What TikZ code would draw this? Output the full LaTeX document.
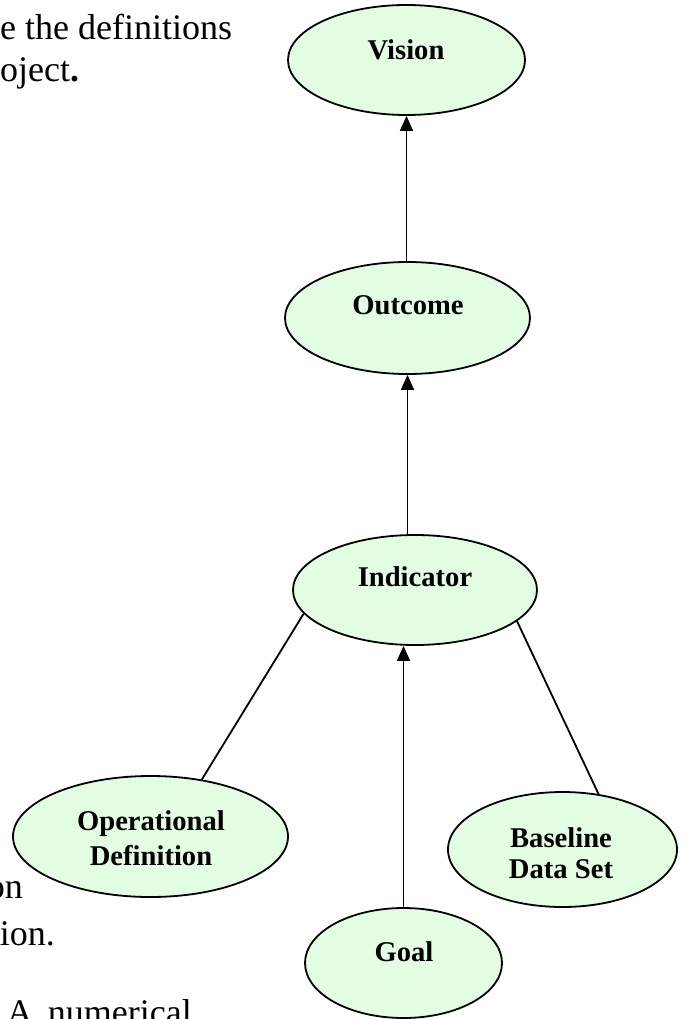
\documentclass[tikz,border=0pt]{standalone}
\usepackage{fontspec}
\setmainfont{Liberation Serif}
\usetikzlibrary{shapes.geometric,arrows.meta}
\definecolor{bubblefill}{RGB}{227,253,227}
\begin{document}
\begin{tikzpicture}[x=1pt,y=-1pt,
  bubble/.style={draw=black,line width=1.8pt,fill=bubblefill,ellipse,inner sep=0pt},
  lbl/.style={font=\fontsize{28.6}{35}\selectfont\bfseries,align=center,inner sep=0pt},
  bodytext/.style={font=\fontsize{36}{42}\selectfont,inner sep=0pt},
  link/.style={line width=1.8pt},
  arr/.style={link,-{Triangle[width=13pt,length=15pt]}}]
\path[use as bounding box] (0,0) rectangle (686,1019);
\begin{scope}
\clip (0,0) rectangle (686,1019);
% surrounding text fragments
\node[bodytext,anchor=base west] (t1) at (0,40) {e the definitions};
\node[bodytext,anchor=base west] (t2) at (0,82) {oject\textbf{.}};
\node[bodytext,anchor=base east] (t3) at (23,898) {on};
\node[bodytext,anchor=base east] (t4) at (55,945) {ion.};
\node[bodytext,anchor=base east] (t5) at (192,1024) {A\hspace{6pt} numerical};
% ellipses
\node[bubble,minimum width=237pt,minimum height=110pt] (vision) at (406.5,60) {};
\node[bubble,minimum width=245pt,minimum height=112pt] (outcome) at (407.5,318) {};
\node[bubble,minimum width=244pt,minimum height=110pt] (indicator) at (415,590) {};
\node[bubble,minimum width=275pt,minimum height=121pt] (oper) at (150.5,836.5) {};
\node[bubble,minimum width=229pt,minimum height=115pt] (base) at (562.5,849.5) {};
\node[bubble,minimum width=197pt,minimum height=110pt] (goal) at (403.5,963) {};
% labels
\node[lbl] (visiontxt) at (406,50) {Vision};
\node[lbl] (outcometxt) at (408,305) {Outcome};
\node[lbl] (indicatortxt) at (415,577) {Indicator};
\node[lbl] (opertxt) at (151,838.5) {Operational\\Definition};
\node[lbl,font=\fontsize{28.6}{31}\selectfont\bfseries] (basetxt) at (561,853) {Baseline\\Data Set};
\node[lbl] (goaltxt) at (404,952) {Goal};
% connectors
\draw[arr] (outcome.north -| vision.south) -- (vision.south);
\draw[arr] (indicator.north -| outcome.south) -- (outcome.south);
\draw[arr] (goal.north) -- (goal.north |- indicator.south);
\draw[link] (indicator.192) -- (oper.48);
\draw[link] (indicator.343) -- (base.57);
\end{scope}
\end{tikzpicture}
\end{document}
